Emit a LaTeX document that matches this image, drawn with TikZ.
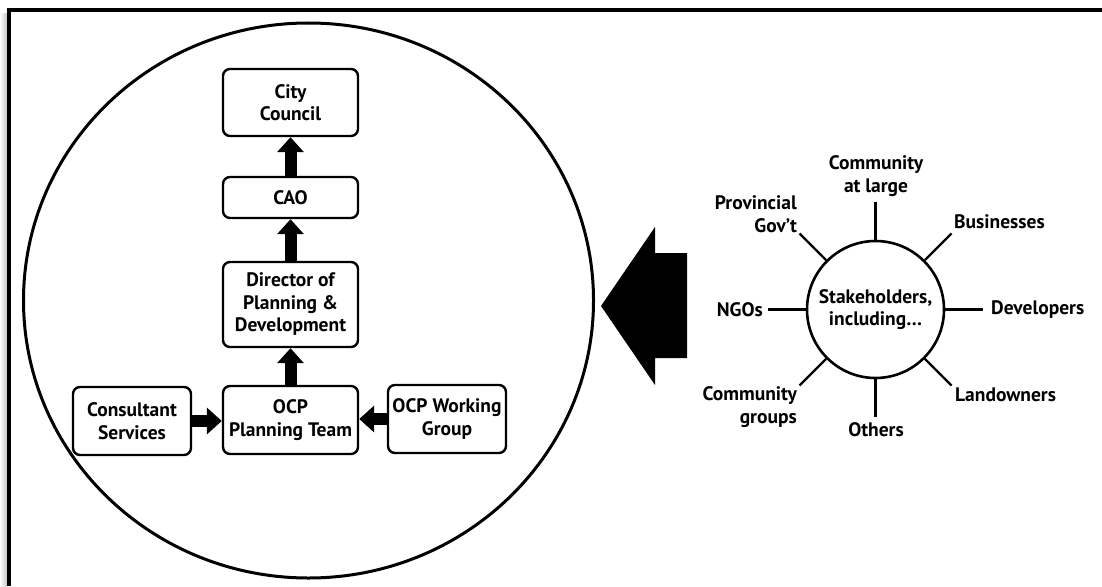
\documentclass[tikz,border=0pt]{standalone}
\usepackage{fontspec}
\setmainfont{PT Sans}
\usetikzlibrary{arrows.meta}
\newcommand{\diagfont}{\bfseries\fontsize{19.5}{22.5}\selectfont}
\tikzset{
  box/.style={draw, line width=2.4pt, rounded corners=7pt, align=center, inner sep=0pt,
    font=\diagfont},
  blockarrow/.style={line width=12pt, -{Triangle[width=26pt,length=15pt]}},
  lbl/.style={inner sep=0pt, font=\diagfont},
  spoke/.style={line width=2.2pt},
}
\begin{document}
\begin{tikzpicture}[x=1pt,y=-1pt]
\useasboundingbox (0,0) rectangle (1102,586);
\fill[white] (0,0) rectangle (1102,586);
% frame with soft left shadow
\shade[left color=white, right color=black!22] (0,14) rectangle (7,586);
\draw[line width=4pt] (9,586) -- (9,10) -- (1102,10);
% big circle
\draw[line width=3pt] (308.5,300.5) ellipse [x radius=285, y radius=277.5];
% boxes
\node[box, minimum width=135pt, minimum height=67pt] (cc) at (290.5,102.5) {City\\Council};
\node[box, minimum width=135pt, minimum height=41pt] (cao) at (290.5,197.5) {CAO};
\node[box, minimum width=135pt, minimum height=85pt] (dir) at (290.5,304.5) {Director of\\Planning \&\\Development};
\node[box, minimum width=135pt, minimum height=68pt] (ocp) at (290.5,420) {OCP\\Planning Team};
\node[box, minimum width=118pt, minimum height=68pt] (cons) at (132,421) {Consultant\\Services};
\node[box, minimum width=118pt, minimum height=68pt] (wg) at (447,419) {OCP Working\\Group};
% block arrows
\draw[blockarrow] (cao.north) -- (cc.south);
\draw[blockarrow] (dir.north) -- (cao.south);
\draw[blockarrow] (ocp.north) -- (dir.south);
\draw[blockarrow] (cons.east) -- (cons.east -| ocp.west);
\draw[blockarrow] (wg.west) -- (wg.west -| ocp.east);
% big arrow
\fill (601,306) -- (655,227) -- (655,253) -- (687,253) -- (687,358) -- (655,358) -- (655,385) -- cycle;
% stakeholders
\node[circle, draw, line width=2.6pt, minimum size=137pt, inner sep=0pt, align=center,
  font=\diagfont] (st) at (875.5,309.5) {Stakeholders,\\including…};
\coordinate (sN) at (875.5,202);
\coordinate (sS) at (875.5,417);
\coordinate (sW) at (768,309.5);
\coordinate (sE) at (983,309.5);
\coordinate (sNE) at (951.5,233.5);
\coordinate (sNW) at (799.5,233.5);
\coordinate (sSW) at (799.5,385.5);
\coordinate (sSE) at (951.5,385.5);
\foreach \c in {sN,sS,sW,sE,sNE,sNW,sSW,sSE} \draw[spoke] (st) -- (\c);
% labels
\node[lbl, align=center] (comm) at (876,176) {Community\\at large};
\node[lbl, align=right, anchor=east] (prov) at (797,214) {Provincial\\Gov’t};
\node[lbl, anchor=west] (bus) at (954,222) {Businesses};
\node[lbl, anchor=east] (ngo) at (763,310) {NGOs};
\node[lbl, anchor=west] (dev) at (991,310) {Developers};
\node[lbl, align=right, anchor=east] (cg) at (797,407) {Community\\groups};
\node[lbl, anchor=west] (land) at (955,395) {Landowners};
\node[lbl] (oth) at (876,430) {Others};
\end{tikzpicture}
\end{document}
